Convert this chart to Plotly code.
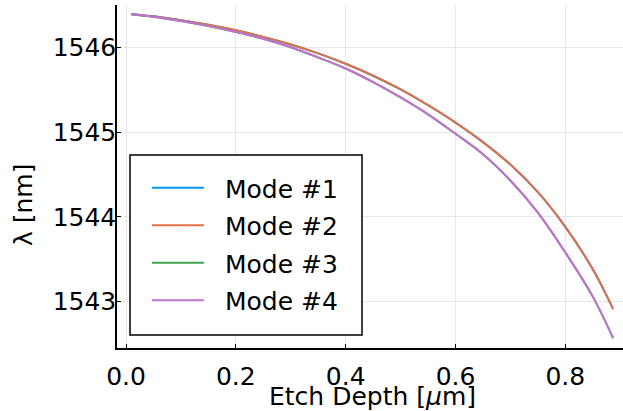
import plotly.graph_objects as go

# Etch depth sweep (µm) and resonant wavelength of each mode (nm)
etch_depth = [0.01, 0.05, 0.1, 0.15, 0.2, 0.25, 0.3, 0.35, 0.4, 0.45, 0.5,
              0.55, 0.6, 0.65, 0.7, 0.75, 0.8, 0.85, 0.887]
mode1 = [1546.39, 1546.365, 1546.32, 1546.265, 1546.20, 1546.123, 1546.033, 1545.928,
         1545.806, 1545.665, 1545.503, 1545.317, 1545.112, 1544.882, 1544.617, 1544.292,
         1543.882, 1543.382, 1542.912]
mode2 = list(mode1)
mode3 = [1546.39, 1546.36, 1546.31, 1546.25, 1546.18, 1546.10, 1546.00, 1545.88,
         1545.75, 1545.59, 1545.41, 1545.21, 1544.98, 1544.74, 1544.43, 1544.05,
         1543.58, 1543.06, 1542.57]
mode4 = list(mode3)

names = ["Mode #1", "Mode #2", "Mode #3", "Mode #4"]
series = [mode1, mode2, mode3, mode4]
colors = ["#009AFA", "#E36F47", "#3EA44E", "#C371D2"]

x_ticks = [0.0, 0.2, 0.4, 0.6, 0.8]
y_ticks = [1543, 1544, 1545, 1546]

FONT = "DejaVu Sans"
W, H = 623, 411
ML, MR, MT, MB = 117, 0, 5, 63
PW, PH = W - ML - MR, H - MT - MB


def px_x(p):
    return (p - ML) / PW


def px_y(p):
    return (H - MB - p) / PH


fig = go.Figure()
for name, ys, c in zip(names, series, colors):
    fig.add_trace(go.Scatter(
        x=etch_depth, y=ys, name="  " + name, legendgroup=name, mode="lines",
        line=dict(color=c, width=2, shape="spline", smoothing=1.0),
    ))

axis_common = dict(
    showline=True, linecolor="black", linewidth=1.5,
    ticks="inside", ticklen=4, tickwidth=1, tickcolor="black",
    showgrid=True, gridcolor="rgba(0,0,0,0.09)", gridwidth=1,
    zeroline=False, mirror=False, automargin=False,
    tickfont=dict(family=FONT, size=25, color="black"),
)

fig.update_xaxes(
    range=[-0.0164, 0.905], tickvals=x_ticks, tickformat=".1f",
    ticklabelstandoff=5,
    **axis_common,
)
fig.update_yaxes(
    range=[1542.454, 1546.499], tickvals=y_ticks,
    ticklabelstandoff=-6,
    **axis_common,
)

# legend frame
fig.add_shape(
    type="rect", xref="paper", yref="paper",
    x0=px_x(130), x1=px_x(362), y0=px_y(335), y1=px_y(155),
    line=dict(color="black", width=1.5), fillcolor="white", layer="above",
)

# axis titles
fig.add_annotation(
    text="Etch Depth [<i>μ</i>m]", xref="paper", yref="paper",
    x=px_x(372), y=px_y(396), xanchor="center", yanchor="middle",
    showarrow=False, font=dict(family=FONT, size=25, color="black"),
)
fig.add_annotation(
    text="λ [nm]", xref="paper", yref="paper",
    x=px_x(24), y=px_y(205), xanchor="center", yanchor="middle",
    textangle=-90, showarrow=False,
    font=dict(family=FONT, size=25, color="black"),
)

fig.update_layout(
    width=W, height=H,
    margin=dict(l=ML, r=MR, t=MT, b=MB, pad=0, autoexpand=False),
    paper_bgcolor="white", plot_bgcolor="white",
    font=dict(family=FONT, color="black"),
    showlegend=True,
    legend=dict(
        x=px_x(147), y=px_y(165), xanchor="left", yanchor="top",
        bgcolor="rgba(0,0,0,0)", borderwidth=0,
        font=dict(family=FONT, size=25, color="black"),
        itemwidth=52, traceorder="grouped", tracegroupgap=2,
    ),
)

fig.write_html("out.html")
